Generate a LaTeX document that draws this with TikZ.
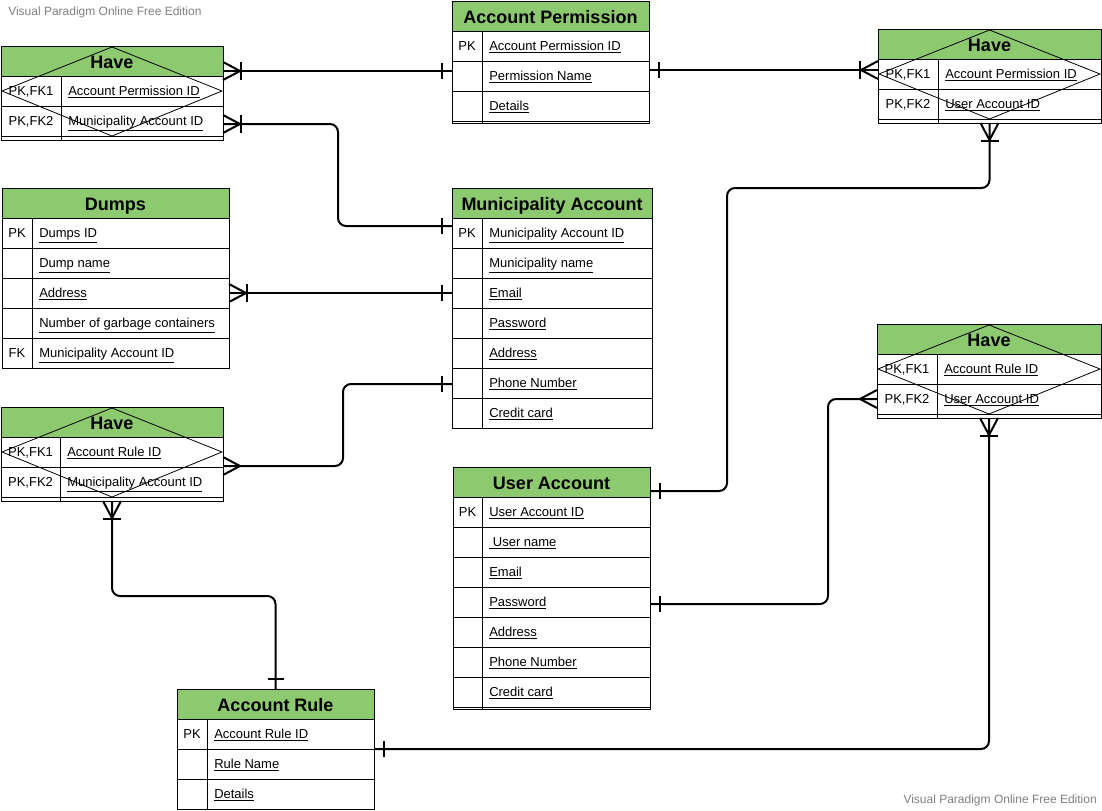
\documentclass[tikz,border=0pt]{standalone}
\usepackage{fontspec}
\setmainfont{Liberation Sans}
\usetikzlibrary{calc}
\definecolor{hdrgreen}{RGB}{141,201,111}
\definecolor{wmgray}{RGB}{128,128,128}
\tikzset{
 tbl/.style={draw=black, line width=0.75pt, outer sep=0pt, inner sep=0pt, rectangle},
 hdr/.style={tbl, fill=hdrgreen, minimum height=22.5pt, text height=11.2pt, text depth=0pt, font=\bfseries\fontsize{13.5}{15}\selectfont},
 rowbox/.style={tbl, fill=white, minimum height=22.5pt},
 keytxt/.style={font=\fontsize{9.75}{11}\selectfont, inner sep=0pt, anchor=base},
 valtxt/.style={font=\fontsize{9.75}{11}\selectfont, inner sep=0pt, anchor=base west},
 cellline/.style={draw=black, line width=0.75pt},
 conn/.style={draw=black, line width=1.5pt, rounded corners=6pt},
 ermark/.style={draw=black, line width=1.5pt},
 dia/.style={draw=black, line width=0.6pt},
 wm/.style={font=\fontsize{9}{11}\selectfont, text=wmgray, inner sep=0pt},
 fitbox/.style={rectangle, inner sep=0pt, outer sep=0pt, draw=none}
}
\newcommand\ertable[8]{%
  \node[hdr, minimum width=#4*0.75pt, anchor=north west] (#1-h) at (#2,#3) {#7};
  \foreach \erk/\erv [count=\i] in {#8} {%
    \node[rowbox, minimum width=#4*0.75pt, anchor=north west] (#1-r\i) at (#2,#3+30*\i) {};
    \draw[cellline] (#2+#5,#3+30*\i) -- ++(0,30);
    \node[keytxt] (#1-k\i) at (#2+#5/2,#3+30*\i+19.5) {\erk};
    \node[valtxt] (#1-v\i) at (#2+#5+7,#3+30*\i+19.5) {\underline{\erv}};
    \xdef\ernrows{\i}%
  }
  \ifnum#6>0
    \draw[cellline, fill=white] (#2,#3+30*\ernrows+30) rectangle ++(#4,#6);
    \draw[cellline] (#2+#5,#3+30*\ernrows+30) -- ++(0,#6);
  \fi
  \node[fitbox, minimum width=#4*0.75pt, minimum height={(30*\ernrows+30+#6)*0.75pt}, anchor=north west] (#1) at (#2,#3) {};
}
\newcommand\erone[2]{\begin{scope}[shift={(#1)},rotate=#2]\draw[ermark] (10,-8) -- (10,8);\end{scope}}
\newcommand\ermany[2]{\begin{scope}[shift={(#1)},rotate=#2]\draw[ermark] (0,-9) -- (17,0) -- (0,9);\end{scope}}
\newcommand\ermandmany[2]{\ermany{#1}{#2}\begin{scope}[shift={(#1)},rotate=#2]\draw[ermark] (18,-9) -- (18,9);\end{scope}}
\newcommand\erdiamond[1]{\draw[dia] ($(#1.north)+(0,1)$) -- ($(#1.east)+(-1,-2)$) -- ($(#1.south)+(0,-4)$) -- ($(#1.west)+(1,-2)$) -- cycle;}
\begin{document}
\begin{tikzpicture}[x=0.75pt,y=-0.75pt]
\useasboundingbox (0,0) rectangle (1102,810);
\fill[white] (0,0) rectangle (1102,810);

\ertable{hTL}{1}{46}{222}{60}{4}{Have}{{PK,FK1}/{Account Permission ID},{PK,FK2}/{Municipality Account ID}}
\ertable{ap}{452}{1}{197}{30}{2}{Account Permission}{PK/{Account Permission ID},{}/{Permission Name},{}/Details}
\ertable{hTR}{878}{29}{223}{60}{4}{Have}{{PK,FK1}/{Account Permission ID},{PK,FK2}/{User Account ID}}
\ertable{dumps}{2}{188}{227}{30}{0}{Dumps}{PK/{Dumps ID},{}/{Dump name},{}/Address,{}/{Number of garbage containers},FK/{Municipality Account ID}}
\ertable{ma}{452}{188}{200}{30}{0}{Municipality Account}{PK/{Municipality Account ID},{}/{Municipality name},{}/Email,{}/Password,{}/Address,{}/{Phone Number},{}/{Credit card}}
\ertable{hLM}{1}{407}{222}{59}{4}{Have}{{PK,FK1}/{Account Rule ID},{PK,FK2}/{Municipality Account ID}}
\ertable{hRM}{877}{324}{224}{60}{4}{Have}{{PK,FK1}/{Account Rule ID},{PK,FK2}/{User Account ID}}
\ertable{ua}{453}{467}{197}{29}{2}{User Account}{PK/{User Account ID},{}/{\ User name},{}/Email,{}/Password,{}/Address,{}/{Phone Number},{}/{Credit card}}
\ertable{ar}{177}{689}{197}{30}{0}{Account Rule}{PK/{Account Rule ID},{}/{Rule Name},{}/Details}

\erdiamond{hTL}
\erdiamond{hTR}
\erdiamond{hLM}
\erdiamond{hRM}

% connector end points
\coordinate (A1) at ($(hTL.north east)+(0,25)$);
\coordinate (A2) at ($(ap.north west)+(0,70)$);
\coordinate (B1) at ($(hTL.north east)+(0,78)$);
\coordinate (B2) at ($(ma.north west)+(0,38)$);
\coordinate (C1) at ($(ap.north east)+(0,69)$);
\coordinate (C2) at ($(hTR.north west)+(0,41)$);
\coordinate (D1) at (hTR.south);
\coordinate (D2) at ($(ua.north east)+(0,24)$);
\coordinate (E1) at ($(dumps.north east)+(0,105)$);
\coordinate (E2) at ($(ma.north west)+(0,105)$);
\coordinate (F1) at ($(hLM.north east)+(0,59)$);
\coordinate (F2) at ($(ma.north west)+(0,196)$);
\coordinate (G1) at (hLM.south);
\coordinate (G2) at (ar.north);
\coordinate (H1) at ($(ua.north east)+(0,137)$);
\coordinate (H2) at ($(hRM.north west)+(0,75)$);
\coordinate (I1) at ($(ar.north east)+(0,60)$);
\coordinate (I2) at (hRM.south);

\draw[conn] (A1) -- (A2);
\draw[conn] (B1) -| (338,226) -- (B2);
\draw[conn] (C1) -- (C2);
\draw[conn] (D1) |- (727,188) |- (D2);
\draw[conn] (E1) -- (E2);
\draw[conn] (F1) -| (343,384) -- (F2);
\draw[conn] (G1) |- (275.5,596) -- (G2);
\draw[conn] (H1) -| (828,399) -- (H2);
\draw[conn] (I1) -| (I2);

\ermandmany{A1}{0} \erone{A2}{180}
\ermandmany{B1}{0} \erone{B2}{180}
\erone{C1}{0} \ermandmany{C2}{180}
\ermandmany{D1}{-90} \erone{D2}{0}
\ermandmany{E1}{0} \erone{E2}{180}
\ermany{F1}{0} \erone{F2}{180}
\ermandmany{G1}{-90} \erone{G2}{90}
\erone{H1}{0} \ermany{H2}{180}
\erone{I1}{0} \ermandmany{I2}{-90}

\node[wm, anchor=west] (wm1) at (8,12) {Visual Paradigm Online Free Edition};
\node[wm, anchor=east] (wm2) at (1097,800) {Visual Paradigm Online Free Edition};
\end{tikzpicture}
\end{document}
